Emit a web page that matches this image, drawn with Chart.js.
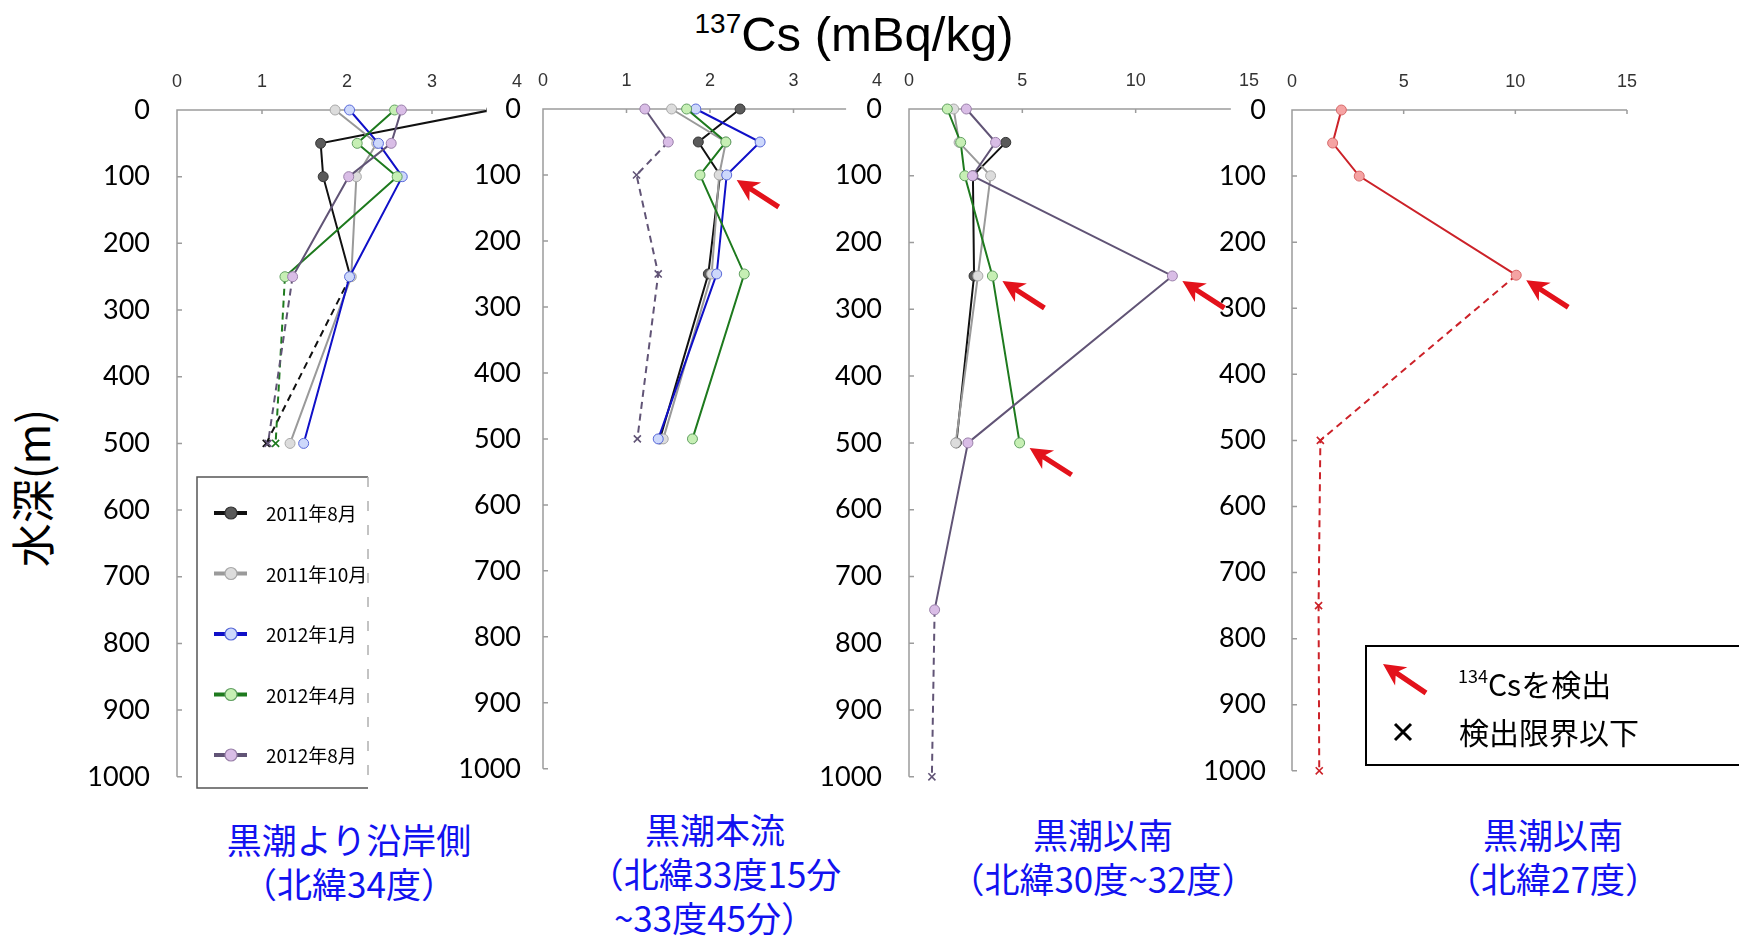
<!DOCTYPE html>
<html>
<head>
<meta charset="utf-8">
<script src="https://cdn.jsdelivr.net/npm/chart.js@4.4.0/dist/chart.umd.min.js"></script>
<style>
  body { margin: 0; background: #fff; width: 1739px; height: 937px; position: relative; overflow: hidden; font-family: "Noto Sans CJK JP", sans-serif; }
  canvas { position: absolute; }
  #title { position: absolute; left: 554px; width: 600px; top: -1px; text-align: center; font: 49px/49px "Liberation Sans", Arial, sans-serif; color: #000; }
  #title span { font-size: 28px; vertical-align: 18px; }
  #ytitle { position: absolute; left: -119px; top: 463px; width: 300px; text-align: center; font-size: 44px; line-height: 50px; transform: rotate(-90deg); }
  .cap { position: absolute; width: 440px; text-align: center; color: #1212f0; font-size: 35px; line-height: 44px; white-space: nowrap; }
</style>
</head>
<body>
<div id="title"><span>137</span>Cs (mBq/kg)</div>
<div id="ytitle">水深(m)</div>
<div class="cap" style="left:129px;top:817px">黒潮より沿岸側<br>（北緯34度）</div>
<div class="cap" style="left:495px;top:807px">黒潮本流<br>（北緯33度15分<br>~33度45分）</div>
<div class="cap" style="left:883px;top:812px">黒潮以南<br>（北緯30度~32度）</div>
<div class="cap" style="left:1333px;top:812px">黒潮以南<br>（北緯27度）</div>
<canvas id="p1"></canvas>
<canvas id="p2"></canvas>
<canvas id="p3"></canvas>
<canvas id="p4"></canvas>
<script>
// depths (m) of the samples
const depthsUpper = [0, 50, 100, 250, 500];
const depthsFull = [0, 50, 100, 250, 500, 750, 1000];

const monthNames = ['2011年8月', '2011年10月', '2012年1月', '2012年4月', '2012年8月'];

// 137Cs (mBq/kg), one row per month, null = no sample
const coastalValues = [
    [3.7, 1.69, 1.72, 2.04, 1.05],
    [1.86, 2.35, 2.11, 2.05, 1.33],
    [2.03, 2.37, 2.65, 2.03, 1.49],
    [2.56, 2.12, 2.59, 1.27, 1.16],
    [2.64, 2.52, 2.02, 1.36, 1.07]
];
// 1 = below detection limit
const coastalND = [
    [0, 0, 0, 0, 1],
    [0, 0, 0, 0, 0],
    [0, 0, 0, 0, 0],
    [0, 0, 0, 0, 1],
    [0, 0, 0, 0, 1]
];

const mainValues = [
    [2.36, 1.86, 2.12, 1.98, 1.40],
    [1.54, 2.19, 2.11, 2.02, 1.44],
    [1.83, 2.60, 2.20, 2.08, 1.38],
    [1.72, 2.19, 1.88, 2.41, 1.79],
    [1.22, 1.50, 1.12, 1.38, 1.13]
];
const mainND = [
    [0, 0, 0, 0, 0],
    [0, 0, 0, 0, 0],
    [0, 0, 0, 0, 0],
    [0, 0, 0, 0, 0],
    [0, 0, 1, 1, 1]
];

const southValues = [
    [null, 4.27, 2.82, 2.87, 2.09, null, null],
    [1.97, 2.21, 3.60, 3.04, 2.06, null, null],
    [null, null, null, null, null, null, null],
    [1.69, 2.28, 2.46, 3.68, 4.88, null, null],
    [2.53, 3.82, 2.80, 11.62, 2.60, 1.13, 1.01]
];
const southND = [
    [0, 0, 0, 0, 0, 0, 0],
    [0, 0, 0, 0, 0, 0, 0],
    [0, 0, 0, 0, 0, 0, 0],
    [0, 0, 0, 0, 0, 0, 0],
    [0, 0, 0, 0, 0, 0, 1]
];

const south27Values = [[2.21, 1.82, 3.01, 10.04, 1.27, 1.19, 1.22]];
const south27ND = [[0, 0, 0, 0, 1, 1, 1]];

// 134Cs detected: [month row, depth]
const mainArrows = [[2, 100]];
const southArrows = [[3, 250], [4, 250], [3, 500]];
const south27Arrows = [[0, 250]];

const monthStyles = [
    { line: '#111111', fill: '#5a5a5a', edge: '#333333' },
    { line: '#9a9a9a', fill: '#dcdcdc', edge: '#a8a8a8' },
    { line: '#1010c8', fill: '#cdd8fb', edge: '#5868d8' },
    { line: '#1e7a1e', fill: '#c6efb4', edge: '#62a062' },
    { line: '#615476', fill: '#d9bde6', edge: '#9a80aa' }
];
const redStyle = [{ line: '#cc2229', fill: '#f5a3a3', edge: '#d66a6a' }];

const ARROW_RED = '#e3121b';
const DEPTH_FONT = 27;

function drawArrow(ctx, tx, ty, dx, dy) {
    const len = Math.hypot(dx, dy);
    const ux = dx / len, uy = dy / len;
    const nx = -uy, ny = ux;
    const pts = [
        [tx, ty],
        [tx + ux * 22 + nx * 11, ty + uy * 22 + ny * 11],
        [tx + ux * 17 + nx * 2.6, ty + uy * 17 + ny * 2.6],
        [tx + dx + nx * 2.6, ty + dy + ny * 2.6],
        [tx + dx - nx * 2.6, ty + dy - ny * 2.6],
        [tx + ux * 17 - nx * 2.6, ty + uy * 17 - ny * 2.6],
        [tx + ux * 22 - nx * 11, ty + uy * 22 - ny * 11]
    ];
    ctx.save();
    ctx.fillStyle = ARROW_RED;
    ctx.beginPath();
    pts.forEach((p, i) => i ? ctx.lineTo(p[0], p[1]) : ctx.moveTo(p[0], p[1]));
    ctx.closePath();
    ctx.fill();
    ctx.restore();
}

// axis lines with short inward ticks
const axesPlugin = {
    id: 'axes',
    beforeDatasetsDraw(chart, args, opts) {
        const { ctx, scales: { x, y } } = chart;
        const x0 = x.getPixelForValue(0), x1 = x.getPixelForValue(opts.end);
        const y0 = y.getPixelForValue(0), y1 = y.getPixelForValue(1000);
        ctx.save();
        ctx.strokeStyle = '#9c9c9c';
        ctx.lineWidth = 1.5;
        ctx.beginPath();
        ctx.moveTo(x1, y0);
        ctx.lineTo(x0, y0);
        ctx.lineTo(x0, y1);
        x.ticks.forEach(t => {
            if (t.value > 0 && t.value <= opts.end + 0.01) {
                const px = x.getPixelForValue(t.value);
                ctx.moveTo(px, y0);
                ctx.lineTo(px, y0 + 4);
            }
        });
        y.ticks.forEach(t => {
            if (t.value > 0) {
                const py = y.getPixelForValue(t.value);
                ctx.moveTo(x0, py);
                ctx.lineTo(x0 + 5, py);
            }
        });
        ctx.stroke();
        ctx.restore();
    }
};

// red arrows next to points where 134Cs was found
const arrowsPlugin = {
    id: 'arrows',
    afterDatasetsDraw(chart, args, opts) {
        (opts.list || []).forEach(([ds, depth]) => {
            const k = chart.data.datasets[ds].data.findIndex(d => d.y === depth);
            const el = chart.getDatasetMeta(ds).data[k];
            if (el) drawArrow(chart.ctx, el.x + 10, el.y + 5, 42, 27);
        });
    }
};

// month legend, panel 1
const monthLegendPlugin = {
    id: 'monthLegend',
    afterDraw(chart, args, opts) {
        if (!opts.show) return;
        const { ctx, chartArea } = chart;
        const bx = chartArea.left + 20, by = chartArea.top + 367, bw = 171, bh = 311;
        ctx.save();
        ctx.strokeStyle = '#555';
        ctx.lineWidth = 1.5;
        ctx.beginPath();
        ctx.moveTo(bx + bw, by);
        ctx.lineTo(bx, by);
        ctx.lineTo(bx, by + bh);
        ctx.lineTo(bx + bw, by + bh);
        ctx.stroke();
        ctx.strokeStyle = '#b0b0b0';
        ctx.setLineDash([10, 14]);
        ctx.beginPath();
        ctx.moveTo(bx + bw, by);
        ctx.lineTo(bx + bw, by + bh);
        ctx.stroke();
        ctx.setLineDash([]);
        monthNames.forEach((name, i) => {
            const st = monthStyles[i];
            const ly = by + 36 + i * 60.5;
            ctx.strokeStyle = st.line;
            ctx.lineWidth = 4;
            ctx.beginPath();
            ctx.moveTo(bx + 17, ly);
            ctx.lineTo(bx + 50, ly);
            ctx.stroke();
            ctx.fillStyle = st.fill;
            ctx.strokeStyle = st.edge;
            ctx.lineWidth = 1.2;
            ctx.beginPath();
            ctx.arc(bx + 34, ly, 6, 0, Math.PI * 2);
            ctx.fill();
            ctx.stroke();
            ctx.fillStyle = '#000';
            ctx.font = '19px "Noto Sans CJK JP"';
            ctx.textBaseline = 'middle';
            ctx.fillText(name, bx + 69, ly + 1);
        });
        ctx.restore();
    }
};

// 134Cs / detection-limit legend, panel 4
const markLegendPlugin = {
    id: 'markLegend',
    afterDraw(chart, args, opts) {
        if (!opts.show) return;
        const { ctx, chartArea } = chart;
        const bx = chartArea.left + 74, by = chartArea.top + 536, bw = 500, bh = 119;
        ctx.save();
        ctx.strokeStyle = '#000';
        ctx.lineWidth = 2;
        ctx.strokeRect(bx, by, bw, bh);
        drawArrow(ctx, bx + 17, by + 18, 43, 29);
        ctx.fillStyle = '#000';
        ctx.textBaseline = 'alphabetic';
        ctx.font = '18px "Noto Sans CJK JP"';
        ctx.fillText('134', bx + 92, by + 37);
        const w = ctx.measureText('134').width;
        ctx.font = '30px "Noto Sans CJK JP"';
        ctx.fillText('Csを検出', bx + 92 + w, by + 50);
        ctx.fillText('検出限界以下', bx + 93, by + 98);
        ctx.lineWidth = 3;
        ctx.beginPath();
        ctx.moveTo(bx + 29, by + 78);
        ctx.lineTo(bx + 45, by + 94);
        ctx.moveTo(bx + 45, by + 78);
        ctx.lineTo(bx + 29, by + 94);
        ctx.stroke();
        ctx.restore();
    }
};

const panels = [
    { id: 'p1', x0: 176.7, top: 110, bottom: 777, unit: 85, max: 4, step: 1, end: 3.63, labelPad: 19,
      depths: depthsUpper, values: coastalValues, nd: coastalND, styles: monthStyles, names: monthNames,
      arrows: [], monthLegend: true },
    { id: 'p2', x0: 543.3, top: 109, bottom: 769, unit: 83.5, max: 4, step: 1, end: 3.63, labelPad: 14,
      depths: depthsUpper, values: mainValues, nd: mainND, styles: monthStyles, names: monthNames,
      arrows: mainArrows },
    { id: 'p3', x0: 909.3, top: 109, bottom: 777, unit: 22.67, max: 15, step: 5, end: 14.2, labelPad: 19,
      depths: depthsFull, values: southValues, nd: southND, styles: monthStyles, names: monthNames,
      arrows: southArrows },
    { id: 'p4', x0: 1291.7, top: 110, bottom: 771, unit: 22.33, max: 15, step: 5, end: 15, labelPad: 18,
      depths: depthsFull, values: south27Values, nd: south27ND, styles: redStyle, names: ['北緯27度'],
      arrows: south27Arrows, markLegend: true }
];

panels.forEach(p => {
    const plotW = p.unit * p.max;
    const padRight = p.markLegend ? Math.round(1739 - (p.x0 + plotW)) : 30;
    // the y scale reserves half a label plus the tick padding below the last tick
    const bottomRoom = DEPTH_FONT * 0.6 + p.labelPad;
    const cv = document.getElementById(p.id);
    cv.width = Math.round(130 + plotW + padRight);
    cv.height = Math.round(p.bottom - 40 + bottomRoom);
    cv.style.left = (p.x0 - 130) + 'px';
    cv.style.top = '40px';
    // keep lines inside the drawn axis length
    const clipRight = (p.end - p.max) * p.unit + 1;

    const datasets = p.values.map((vals, i) => {
        const st = p.styles[i];
        const pts = [], flags = [];
        vals.forEach((v, k) => {
            if (v == null) return;
            pts.push({ x: v, y: p.depths[k] });
            flags.push(p.nd[i][k]);
        });
        return {
            label: p.names[i],
            data: pts,
            borderColor: st.line,
            borderWidth: 2,
            tension: 0,
            clip: { left: 10, top: 10, bottom: 10, right: clipRight },
            pointStyle: flags.map(f => f ? 'crossRot' : 'circle'),
            pointRadius: 5,
            pointBackgroundColor: st.fill,
            pointBorderColor: flags.map(f => f ? st.line : st.edge),
            pointBorderWidth: flags.map(f => f ? 1.6 : 1),
            segment: { borderDash: ctx => flags[ctx.p1DataIndex] ? [7, 5] : undefined },
            order: p.values.length - i
        };
    });

    new Chart(cv, {
        type: 'line',
        data: { datasets },
        options: {
            responsive: false,
            animation: false,
            devicePixelRatio: 1,
            layout: { padding: { left: 0, right: padRight, top: 0, bottom: 0 } },
            plugins: {
                legend: { display: false },
                tooltip: { enabled: false },
                axes: { end: p.end },
                arrows: { list: p.arrows },
                monthLegend: { show: !!p.monthLegend },
                markLegend: { show: !!p.markLegend }
            },
            scales: {
                x: {
                    type: 'linear', position: 'top', min: 0, max: p.max,
                    ticks: { stepSize: p.step, color: '#333', padding: 9, font: { family: 'Liberation Sans', size: 18 } },
                    grid: { display: false },
                    border: { display: false },
                    afterFit: s => { s.height = p.top - 40; }
                },
                y: {
                    type: 'linear', reverse: true, min: 0, max: 1000,
                    ticks: { stepSize: 100, color: '#000', padding: p.labelPad, font: { family: 'Lato', size: DEPTH_FONT },
                             callback: v => String(v) },
                    grid: { display: false },
                    border: { display: false },
                    afterFit: s => { s.width = 130; }
                }
            }
        },
        plugins: [axesPlugin, arrowsPlugin, monthLegendPlugin, markLegendPlugin]
    });
});
</script>
</body>
</html>
